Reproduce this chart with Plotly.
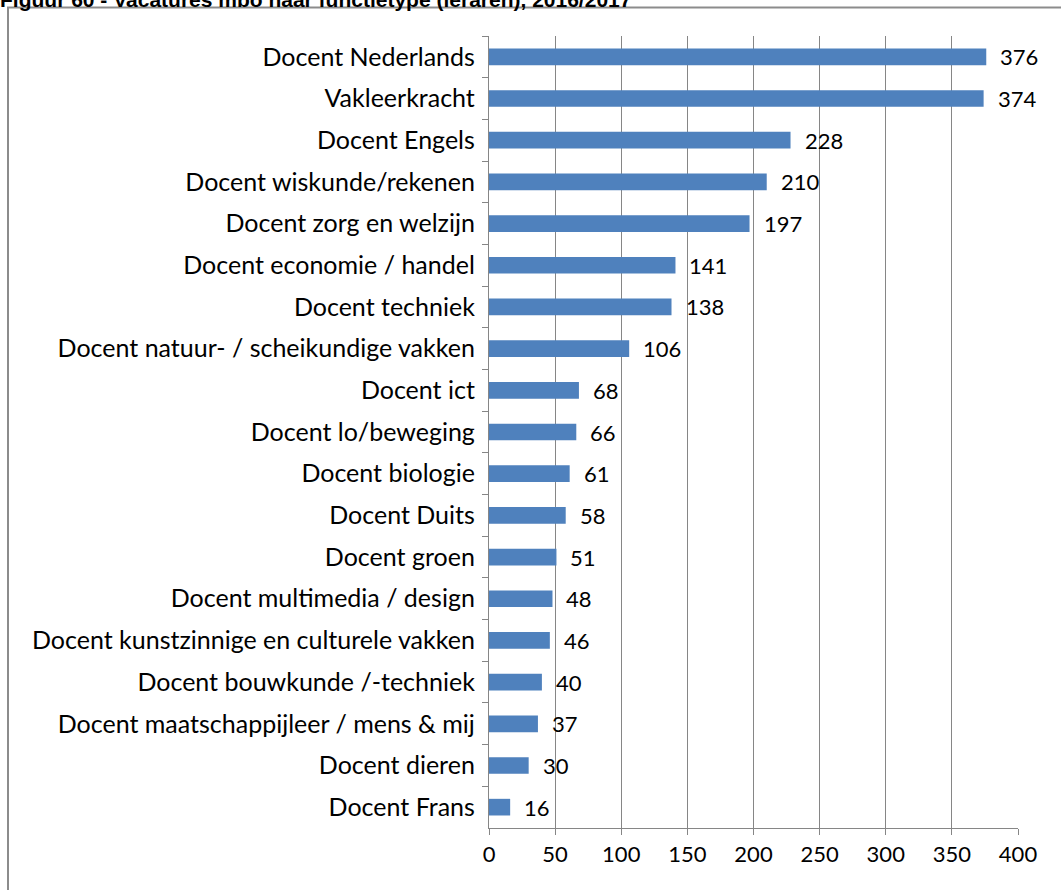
import plotly.graph_objects as go

categories = [
    "Docent Nederlands", "Vakleerkracht", "Docent Engels", "Docent wiskunde/rekenen",
    "Docent zorg en welzijn", "Docent economie / handel", "Docent techniek",
    "Docent natuur- / scheikundige vakken", "Docent ict", "Docent lo/beweging",
    "Docent biologie", "Docent Duits", "Docent groen", "Docent multimedia / design",
    "Docent kunstzinnige en culturele vakken", "Docent bouwkunde /-techniek",
    "Docent maatschappijleer / mens & mij", "Docent dieren", "Docent Frans",
]
values = [376, 374, 228, 210, 197, 141, 138, 106, 68, 66, 61, 58, 51, 48, 46, 40, 37, 30, 16]
x_ticks = [0, 50, 100, 150, 200, 250, 300, 350, 400]
title_text = "Figuur 60 - Vacatures mbo naar functietype (leraren), 2016/2017"

FONT = "Lato, Carlito, Calibri, sans-serif"
GRID = "#868686"

fig = go.Figure(go.Bar(
    x=values, y=categories, orientation="h",
    marker=dict(color="#4F81BD", line=dict(width=0)),
    hoverinfo="x+y",
))

L, R, T, B = 489, 43, 36, 62
W, H = 1061, 890
pw, ph = W - L - R, H - T - B

annotations = [
    dict(x=v, y=c, xref="x", yref="y", text=str(v), showarrow=False,
         xanchor="left", yanchor="middle", xshift=12,
         font=dict(family=FONT, size=22, color="black"))
    for c, v in zip(categories, values)
]

fig.update_layout(
    width=W, height=H, autosize=False,
    margin=dict(l=L, r=R, t=T, b=B, pad=0, autoexpand=False),
    paper_bgcolor="white", plot_bgcolor="white",
    bargap=0.6, showlegend=False,
    font=dict(family=FONT, size=22, color="black"),
    title=dict(
        text="<b>" + title_text + "</b>", xref="container", yref="container",
        x=0, xanchor="left", y=1 - 7 / H, yanchor="bottom",
        font=dict(family="Liberation Sans, Arial", size=21, color="black"),
        automargin=False,
    ),
    xaxis=dict(
        range=[0, 400], tickvals=x_ticks, ticktext=[str(t) for t in x_ticks],
        showgrid=True, gridcolor=GRID, gridwidth=1.3,
        showline=True, linecolor=GRID, linewidth=1.3,
        ticks="outside", ticklen=6, tickcolor=GRID, tickwidth=1.3,
        zeroline=False, tickfont=dict(size=22, family=FONT),
        automargin=False, fixedrange=True,
    ),
    yaxis=dict(
        autorange="reversed", type="category",
        showline=True, linecolor=GRID, linewidth=1.3,
        ticks="outside", ticklen=6, tickcolor=GRID, tickwidth=1.3,
        tickson="boundaries", showgrid=False,
        tickfont=dict(size=25, family=FONT),
        ticklabelstandoff=8, automargin=False,
    ),
    annotations=annotations,
    shapes=[dict(
        type="rect", xref="paper", yref="paper",
        x0=(8 - L) / pw, x1=(W + 10 - L) / pw,
        y0=-(B + 10) / ph, y1=1 + (T - 7.5) / ph,
        line=dict(color="#8c8c8c", width=2), layer="below",
    )],
)

fig.write_html(
    "out.html",
    config={"displayModeBar": False},
    post_script="document.body.style.margin='0';document.body.style.overflow='hidden';",
)
